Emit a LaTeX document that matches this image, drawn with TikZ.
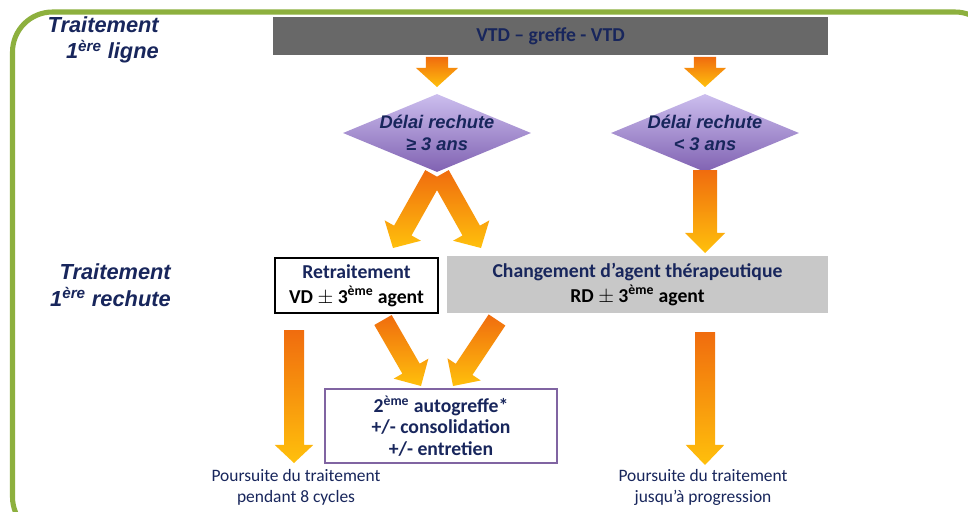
\documentclass[tikz,border=0pt]{standalone}
\usepackage{fontspec}
\setmainfont{Carlito}
\newfontfamily\arialfont{Liberation Sans}
\usetikzlibrary{positioning,shapes,calc}

\definecolor{frameGreen}{RGB}{141,176,62}
\definecolor{navy}{RGB}{24,38,92}
\definecolor{darkBar}{RGB}{104,104,104}
\definecolor{lightBar}{RGB}{200,200,200}
\definecolor{arrTop}{RGB}{240,108,14}
\definecolor{arrBot}{RGB}{255,192,12}
\definecolor{diaTop}{RGB}{204,190,238}
\definecolor{diaBot}{RGB}{128,98,178}
\definecolor{boxPurple}{RGB}{128,100,162}

% fat shaded arrow: half shaft, half head, head length, from, to
\newcommand{\fatarrow}[5]{%
  \shade[top color=arrTop,bottom color=arrBot]
    ($(#4)!#1!90:(#5)$) -- ($($(#5)!#3!(#4)$)!#1!90:(#5)$)
    -- ($($(#5)!#3!(#4)$)!#2!90:(#5)$) -- (#5)
    -- ($($(#5)!#3!(#4)$)!#2!-90:(#5)$) -- ($($(#5)!#3!(#4)$)!#1!-90:(#5)$)
    -- ($(#4)!#1!-90:(#5)$) -- cycle;
}

\begin{document}
\begin{tikzpicture}[x=0.025cm,y=-0.025cm,
    title/.style={text=navy,font=\arialfont\bfseries\itshape\fontsize{15.5}{19}\selectfont,align=right,anchor=east,inner sep=0pt},
    decision/.style={diamond,top color=diaTop,bottom color=diaBot,minimum width=4.7cm,minimum height=1.95cm,inner sep=0pt},
    dectext/.style={text=navy,font=\arialfont\bfseries\itshape\fontsize{13}{16}\selectfont,align=center},
    boxtext/.style={font=\bfseries\fontsize{14}{15}\selectfont,align=center},
    note/.style={text=navy,font=\fontsize{12.4}{15}\selectfont,align=center}]
  \useasboundingbox (0,0) rectangle (968,512);
  \clip (0,0) rectangle (968,512);
  \fill[white] (0,0) rectangle (968,512);
  \draw[frameGreen,line width=3.6pt,rounded corners=1cm] (12.5,12) rectangle (995,537);

  \node[title] (ligne) at (159,40) {Traitement\\1\textsuperscript{ère} ligne};
  \node[title] (rechute) at (171,285) {Traitement\\1\textsuperscript{ère} rechute};

  \node[fill=darkBar,minimum width=13.875cm,minimum height=0.95cm,boxtext,text=navy] (vtd) at (550.5,36) {VTD -- greffe - VTD};

  \node[decision] (dlong) at (437,133) {};
  \node[dectext] (tlong) at (dlong) {Délai rechute\\≥ 3 ans};
  \node[decision] (dshort) at (705,133) {};
  \node[dectext] (tshort) at (dshort) {Délai rechute\\< 3 ans};

  \node[draw=black,line width=1.4pt,fill=white,minimum width=4.075cm,minimum height=1.375cm,boxtext] (retrait) at (356.5,285.5)
    {\textcolor{navy}{Retraitement}\\[2.5pt]VD $\pm$ 3\textsuperscript{ème} agent};
  \node[fill=lightBar,minimum width=9.525cm,minimum height=1.425cm,boxtext] (change) at (637.5,284.5)
    {\textcolor{navy}{Changement d’agent thérapeutique}\\[2.5pt]RD $\pm$ 3\textsuperscript{ème} agent};
  \node[draw=boxPurple,line width=1.4pt,minimum width=5.8cm,minimum height=1.85cm,boxtext,text=navy] (autog) at (441,426)
    {2\textsuperscript{ème} autogreffe*\\+/- consolidation\\+/- entretien};

  \node[note] (suite8) at (296,487) {Poursuite du traitement\\pendant 8 cycles};
  \node[note] (suiteprog) at (703,487) {Poursuite du traitement\\jusqu’à progression};

  \coordinate (a1s) at (437,57);  \coordinate (a1e) at (437,87);
  \coordinate (a2s) at (705,57);  \coordinate (a2e) at (705,87);
  \coordinate (v1s) at (434,175); \coordinate (v1e) at (393,248);
  \coordinate (v2s) at (440,175); \coordinate (v2e) at (481,248);
  \coordinate (r1s) at (705,170); \coordinate (r1e) at (705,253);
  \coordinate (b1s) at (294,330); \coordinate (b1e) at (294,463);
  \coordinate (d1s) at (383,320); \coordinate (d1e) at (421,386);
  \coordinate (d2s) at (497,320); \coordinate (d2e) at (453,386);
  \coordinate (b2s) at (705,332); \coordinate (b2e) at (705,465);

  \fatarrow{0.28cm}{0.53cm}{0.48cm}{a1s}{a1e}
  \fatarrow{0.28cm}{0.53cm}{0.48cm}{a2s}{a2e}
  \fatarrow{0.25cm}{0.52cm}{0.5cm}{v1s}{v1e}
  \fatarrow{0.25cm}{0.52cm}{0.5cm}{v2s}{v2e}
  \fatarrow{0.3cm}{0.5cm}{0.5cm}{r1s}{r1e}
  \fatarrow{0.25cm}{0.48cm}{0.45cm}{b1s}{b1e}
  \fatarrow{0.25cm}{0.5cm}{0.5cm}{d1s}{d1e}
  \fatarrow{0.25cm}{0.5cm}{0.5cm}{d2s}{d2e}
  \fatarrow{0.25cm}{0.48cm}{0.5cm}{b2s}{b2e}
\end{tikzpicture}
\end{document}
